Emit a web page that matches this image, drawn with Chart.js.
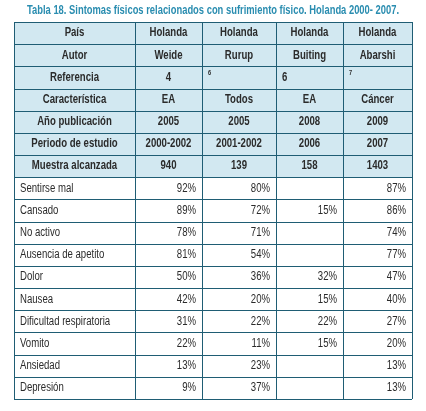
<!DOCTYPE html>
<html>
<head>
<meta charset="utf-8">
<script src="https://cdn.jsdelivr.net/npm/chart.js@4"></script>
<style>
  html, body { margin: 0; padding: 0; background: #fff; }
  #wrap { width: 426px; height: 411px; }
</style>
</head>
<body>
<div id="wrap"><canvas id="tabla"></canvas></div>
<script>
const title = "Tabla 18. Sintomas físicos relacionados con sufrimiento físico. Holanda 2000- 2007.";
const headerLabels = ["País", "Autor", "Referencia", "Característica", "Año publicación", "Periodo de estudio", "Muestra alcanzada"];
const headerValues = [
  ["Holanda", "Holanda", "Holanda", "Holanda"],
  ["Weide", "Rurup", "Buiting", "Abarshi"],
  ["4", "⁶", "6", "⁷"],
  ["EA", "Todos", "EA", "Cáncer"],
  ["2005", "2005", "2008", "2009"],
  ["2000-2002", "2001-2002", "2006", "2007"],
  ["940", "139", "158", "1403"]
];
const symptoms = ["Sentirse mal", "Cansado", "No activo", "Ausencia de apetito", "Dolor", "Nausea",
  "Dificultad respiratoria", "Vomito", "Ansiedad", "Depresión"];
const weide   = [92, 89, 78, 81, 50, 42, 31, 22, 13, 9];
const rurup   = [80, 72, 71, 54, 36, 20, 22, 11, 23, 37];
const buiting = [null, 15, null, null, 32, 15, 22, 15, null, null];
const abarshi = [87, 86, 74, 77, 47, 40, 27, 20, 13, 13];

const colEdges = [0, 121, 188, 262, 329, 398]; // x scale units
const rows = headerLabels.concat(symptoms);
const font = "'Liberation Sans', Arial, sans-serif";
const border = "#1f5d74";
const squeeze = 0.8;

// narrow text: the original uses a condensed face
function txt(ctx, s, x, y) {
  ctx.fillText(s, x, y, ctx.measureText(s).width * squeeze);
}

const tablePlugin = {
  id: "tabla",
  afterDatasetsDraw(chart) {
    const { ctx, scales: { x, y }, chartArea: a } = chart;
    const rh = (a.bottom - a.top) / rows.length;
    ctx.save();
    ctx.fillStyle = "#2a8db0";
    ctx.font = "bold 12px " + font;
    ctx.textAlign = "center";
    ctx.textBaseline = "middle";
    ctx.fillText(title, (a.left + a.right) / 2, 11, 372);
    ctx.strokeStyle = border;
    ctx.lineWidth = 1;
    rows.forEach((r, i) => {
      const yy = Math.round(y.getPixelForValue(i) - rh / 2) + 0.5;
      ctx.beginPath(); ctx.moveTo(a.left, yy); ctx.lineTo(a.right, yy); ctx.stroke();
    });
    ctx.beginPath(); ctx.moveTo(a.left, Math.round(a.bottom) + 0.5); ctx.lineTo(a.right, Math.round(a.bottom) + 0.5); ctx.stroke();
    colEdges.forEach(c => {
      const xx = Math.round(x.getPixelForValue(c)) + 0.5;
      ctx.beginPath(); ctx.moveTo(xx, a.top); ctx.lineTo(xx, a.bottom); ctx.stroke();
    });
    const series = [weide, rurup, buiting, abarshi];
    rows.forEach((r, i) => {
      const yc = y.getPixelForValue(i);
      ctx.fillStyle = "#2b2b2b";
      if (i < headerLabels.length) {
        ctx.font = "bold 12px " + font;
        ctx.textAlign = "center";
        txt(ctx, r, (x.getPixelForValue(colEdges[0]) + x.getPixelForValue(colEdges[1])) / 2, yc);
        headerValues[i].forEach((v, j) => {
          const l = x.getPixelForValue(colEdges[j + 1]), rr = x.getPixelForValue(colEdges[j + 2]);
          if (v === "⁶" || v === "⁷") {
            ctx.font = "bold 7px " + font; ctx.textAlign = "left";
            txt(ctx, v === "⁶" ? "6" : "7", l + 6, yc - 4);
          } else if (i === 2 && j === 2) {
            ctx.font = "bold 12px " + font; ctx.textAlign = "left";
            txt(ctx, v, l + 6, yc);
          } else {
            ctx.font = "bold 12px " + font; ctx.textAlign = "center";
            txt(ctx, v, (l + rr) / 2, yc);
          }
        });
      } else {
        const k = i - headerLabels.length;
        ctx.font = "12px " + font;
        ctx.textAlign = "left";
        txt(ctx, r, x.getPixelForValue(colEdges[0]) + 6, yc);
        ctx.textAlign = "right";
        series.forEach((s, j) => {
          if (s[k] == null) return;
          txt(ctx, s[k] + "%", x.getPixelForValue(colEdges[j + 2]) - 6, yc);
        });
      }
    });
    ctx.restore();
  }
};

new Chart(document.getElementById("tabla"), {
  type: "bar",
  data: {
    labels: rows,
    datasets: [{
      data: rows.map((r, i) => i < headerLabels.length ? [colEdges[0], colEdges[colEdges.length - 1]] : null),
      backgroundColor: "#d2e8f1",
      borderWidth: 0,
      barPercentage: 1,
      categoryPercentage: 1
    }]
  },
  options: {
    indexAxis: "y",
    responsive: true,
    maintainAspectRatio: false,
    animation: false,
    layout: { padding: { left: 14, right: 14, top: 22, bottom: 12 } },
    plugins: { legend: { display: false }, tooltip: { enabled: false } },
    scales: {
      x: { type: "linear", min: colEdges[0], max: colEdges[colEdges.length - 1], display: false },
      y: { type: "category", display: false, offset: true }
    }
  },
  plugins: [tablePlugin]
});
</script>
</body>
</html>
